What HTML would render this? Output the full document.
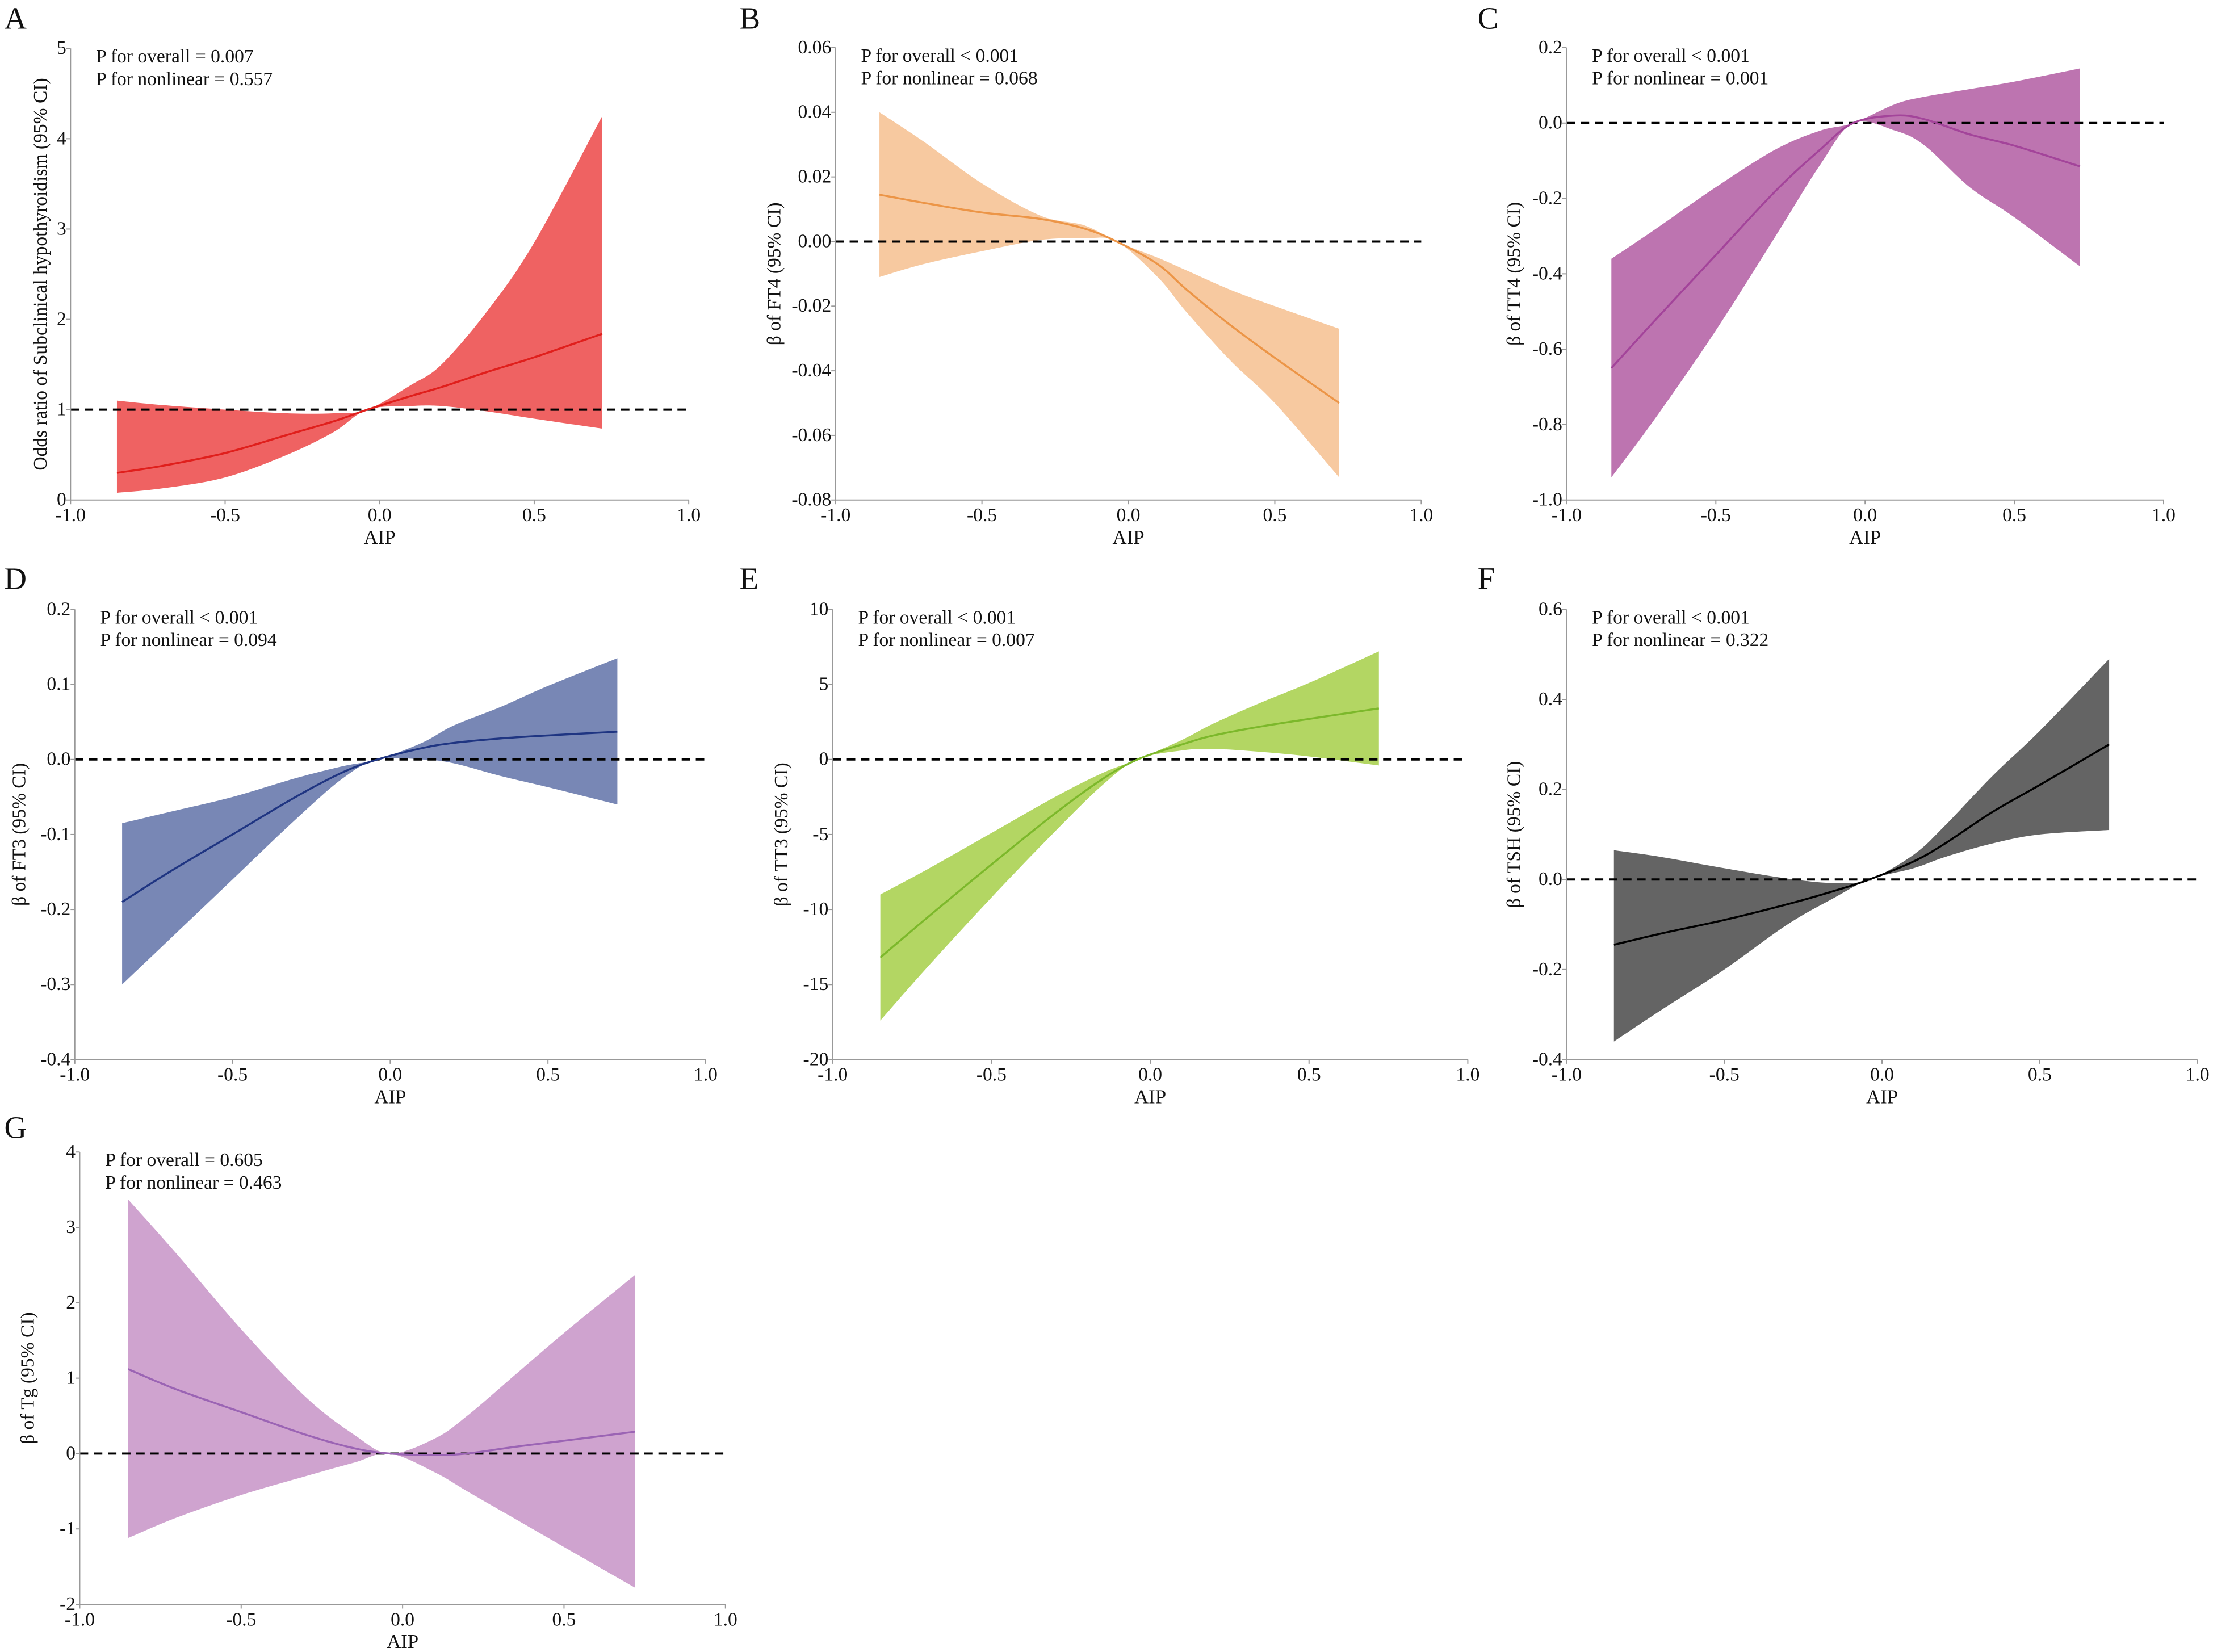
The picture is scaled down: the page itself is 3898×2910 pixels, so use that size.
<!DOCTYPE html>
<html><head><meta charset="utf-8"><style>
html,body{margin:0;padding:0;background:#fff;}
svg{display:block;}
svg text{font-family:"Liberation Serif","Times New Roman",serif;}
</style></head><body>
<svg id="fig" width="3898" height="2910" viewBox="0 0 1568 1170" font-family="Liberation Serif, serif" xmlns="http://www.w3.org/2000/svg"></svg>
<script>
const xs = [-0.85,-0.7,-0.5,-0.3,-0.15,-0.04,0.1,0.2,0.35,0.5,0.72];
const xTicks = [-1.0,-0.5,0.0,0.5,1.0];
const xTickLabels = ["-1.0","-0.5","0.0","0.5","1.0"];

const aEst = [0.3,0.38,0.52,0.72,0.87,1,1.15,1.25,1.42,1.58,1.84];
const aLo  = [0.08,0.13,0.25,0.5,0.75,1,1.04,1.04,0.98,0.9,0.79];
const aHi  = [1.1,1.05,1.0,0.96,0.96,1,1.27,1.5,2.1,2.85,4.25];
const aTicks = [0,1,2,3,4,5];
const aTickLabels = ["0","1","2","3","4","5"];

const bEst = [0.0145,0.012,0.009,0.007,0.004,0,-0.007,-0.015,-0.026,-0.036,-0.050];
const bLo  = [-0.011,-0.007,-0.003,0.0005,0.001,0,-0.011,-0.022,-0.037,-0.050,-0.073];
const bHi  = [0.040,0.031,0.018,0.008,0.005,0,-0.005,-0.009,-0.015,-0.020,-0.027];
const bTicks = [-0.08,-0.06,-0.04,-0.02,0,0.02,0.04,0.06];
const bTickLabels = ["-0.08","-0.06","-0.04","-0.02","0.00","0.02","0.04","0.06"];

const cEst = [-0.65,-0.52,-0.35,-0.18,-0.07,0,0.02,0.01,-0.03,-0.06,-0.115];
const cLo  = [-0.94,-0.78,-0.55,-0.30,-0.11,0,-0.02,-0.06,-0.17,-0.25,-0.38];
const cHi  = [-0.36,-0.28,-0.17,-0.07,-0.02,0,0.05,0.07,0.09,0.11,0.145];
const cTicks = [-1.0,-0.8,-0.6,-0.4,-0.2,0,0.2];
const cTickLabels = ["-1.0","-0.8","-0.6","-0.4","-0.2","0.0","0.2"];

const dEst = [-0.19,-0.15,-0.10,-0.05,-0.017,0,0.015,0.022,0.028,0.032,0.037];
const dLo  = [-0.30,-0.24,-0.16,-0.08,-0.025,0,0.0,-0.005,-0.022,-0.037,-0.06];
const dHi  = [-0.085,-0.07,-0.05,-0.025,-0.009,0,0.022,0.045,0.07,0.098,0.135];
const dTicks = [-0.4,-0.3,-0.2,-0.1,0,0.1,0.2];
const dTickLabels = ["-0.4","-0.3","-0.2","-0.1","0.0","0.1","0.2"];

const eEst = [-13.2,-10.5,-7,-3.6,-1.3,0,1.0,1.6,2.2,2.7,3.4];
const eLo  = [-17.4,-13.8,-9.2,-4.8,-1.7,0,0.6,0.7,0.5,0.2,-0.4];
const eHi  = [-9,-7.3,-4.9,-2.5,-0.9,0,1.3,2.4,3.8,5.1,7.2];
const eTicks = [-20,-15,-10,-5,0,5,10];
const eTickLabels = ["-20","-15","-10","-5","0","5","10"];

const fEst = [-0.145,-0.12,-0.09,-0.055,-0.025,0,0.04,0.08,0.15,0.21,0.30];
const fLo  = [-0.36,-0.29,-0.20,-0.10,-0.04,0,0.025,0.05,0.08,0.10,0.11];
const fHi  = [0.065,0.05,0.025,0.002,-0.008,0,0.055,0.12,0.23,0.33,0.49];
const fTicks = [-0.4,-0.2,0,0.2,0.4,0.6];
const fTickLabels = ["-0.4","-0.2","0.0","0.2","0.4","0.6"];

const gEst = [1.12,0.85,0.55,0.25,0.07,0,-0.02,0.0,0.09,0.17,0.29];
const gLo  = [-1.12,-0.85,-0.55,-0.3,-0.12,0,-0.25,-0.5,-0.87,-1.24,-1.78];
const gHi  = [3.37,2.65,1.65,0.75,0.25,0,0.2,0.5,1.05,1.6,2.37];
const gTicks = [-2,-1,0,1,2,3,4];
const gTickLabels = ["-2","-1","0","1","2","3","4"];

const NS = "http://www.w3.org/2000/svg";
const FONT = '"Liberation Serif", serif';
const fig = document.getElementById('fig');
function mk(tag, attrs, parent, text){
  const e = document.createElementNS(NS, tag);
  for (const k in attrs) e.setAttribute(k, attrs[k]);
  if (tag === 'text') e.setAttribute('font-family', FONT);
  if (text !== undefined) e.textContent = text;
  (parent||fig).appendChild(e);
  return e;
}
function smooth(pts){
  let d = "M" + pts[0][0] + "," + pts[0][1];
  for (let i=0;i<pts.length-1;i++){
    const p0 = pts[Math.max(0,i-1)], p1 = pts[i], p2 = pts[i+1], p3 = pts[Math.min(pts.length-1,i+2)];
    const c1 = [p1[0]+(p2[0]-p0[0])/6, p1[1]+(p2[1]-p0[1])/6];
    const c2 = [p2[0]-(p3[0]-p1[0])/6, p2[1]-(p3[1]-p1[1])/6];
    d += " C"+c1[0]+","+c1[1]+" "+c2[0]+","+c2[1]+" "+p2[0]+","+p2[1];
  }
  return d;
}
function panel(cfg){
  const g = mk('g', {});
  
  
  const ymin = cfg.ticks[0], ymax = cfg.ticks[cfg.ticks.length-1];
  const X = v => cfg.xL + (v + 1) / 2 * (cfg.xR - cfg.xL);
  const Y = v => cfg.yB - (v - ymin) / (ymax - ymin) * (cfg.yB - cfg.yT);
  const letter = mk('text', {x: cfg.lx, y: cfg.ly, 'font-size': 22, fill: '#111'}, g, cfg.id);
  
  
  const hiPts = xs.map((x,i)=>[X(x), Y(cfg.hi[i])]);
  const loPts = xs.map((x,i)=>[X(x), Y(cfg.lo[i])]).reverse();
  const band = mk('path', {d: smooth(hiPts) + smooth(loPts).replace(/^M/, ' L') + ' Z', fill: cfg.fill, stroke: 'none'}, g);
  
  
  const ref = mk('line', {x1: cfg.xL, x2: cfg.xR, y1: Y(cfg.refv), y2: Y(cfg.refv), stroke: '#000', 'stroke-width': 1.6, 'stroke-dasharray': '6,4'}, g);
  
  
  const est = mk('path', {d: smooth(xs.map((x,i)=>[X(x), Y(cfg.est[i])])), fill: 'none', stroke: cfg.line, 'stroke-width': 1.4}, g);
  
  
  const ya = mk('line', {x1: cfg.xL, x2: cfg.xL, y1: cfg.yT, y2: cfg.yB, stroke: '#999', 'stroke-width': 0.8}, g);
  
  
  const xa = mk('line', {x1: cfg.xL, x2: cfg.xR, y1: cfg.yB, y2: cfg.yB, stroke: '#999', 'stroke-width': 0.8}, g);
  
  
  cfg.ticks.forEach((t,i)=>{
    mk('line', {x1: cfg.xL-3, x2: cfg.xL, y1: Y(t), y2: Y(t), stroke: '#999', 'stroke-width': 0.8}, g);
    const tl = mk('text', {x: cfg.xL-3, y: Y(t)+4, 'font-size': 13.5, 'text-anchor': 'end', fill: '#111'}, g, cfg.labels[i]);
    
    
  });
  xTicks.forEach((t,i)=>{
    mk('line', {x1: X(t), x2: X(t), y1: cfg.yB, y2: cfg.yB+3, stroke: '#999', 'stroke-width': 0.8}, g);
    const tl = mk('text', {x: X(t), y: cfg.yB+15, 'font-size': 13.5, 'text-anchor': 'middle', fill: '#111'}, g, xTickLabels[i]);
    
    
  });
  const xt = mk('text', {x: X(0), y: cfg.yB+31, 'font-size': 14, 'text-anchor': 'middle', fill: '#111'}, g, 'AIP');
  
  
  const cy = (cfg.yT + cfg.yB)/2;
  const yt = mk('text', {x: 0, y: 0, 'font-size': 13.5, 'text-anchor': 'middle', fill: '#111', transform: 'translate(' + cfg.tx + ',' + cy + ') rotate(-90)'}, g, cfg.ytitle);
  
  
  const a1 = mk('text', {x: cfg.xL+18, y: cfg.yT+10, 'font-size': 13.5, fill: '#111'}, g, cfg.p1);
  
  
  const a2 = mk('text', {x: cfg.xL+18, y: cfg.yT+26, 'font-size': 13.5, fill: '#111'}, g, cfg.p2);
  
  
}
panel({id:'A', lx:3, ly:20, xL:50, xR:488, yT:34, yB:354, tx:33, ticks:aTicks, labels:aTickLabels, est:aEst, lo:aLo, hi:aHi, refv:1, fill:'#ef6262', line:'#e01f1c', ytitle:'Odds ratio of Subclinical hypothyroidism (95% CI)', p1:'P for overall = 0.007', p2:'P for nonlinear = 0.557'});
panel({id:'B', lx:524, ly:20, xL:592, xR:1007, yT:33.5, yB:354, tx:553, ticks:bTicks, labels:bTickLabels, est:bEst, lo:bLo, hi:bHi, refv:0, fill:'#f7c9a0', line:'#ec9547', ytitle:'β  of FT4 (95% CI)', p1:'P for overall < 0.001', p2:'P for nonlinear = 0.068'});
panel({id:'C', lx:1047, ly:20, xL:1110, xR:1533, yT:33.5, yB:354, tx:1077, ticks:cTicks, labels:cTickLabels, est:cEst, lo:cLo, hi:cHi, refv:0, fill:'#bd74b0', line:'#a3449a', ytitle:'β  of TT4 (95% CI)', p1:'P for overall < 0.001', p2:'P for nonlinear = 0.001'});
panel({id:'D', lx:3, ly:417, xL:53, xR:500, yT:431.5, yB:750.5, tx:18, ticks:dTicks, labels:dTickLabels, est:dEst, lo:dLo, hi:dHi, refv:0, fill:'#7887b5', line:'#1f3582', ytitle:'β  of FT3 (95% CI)', p1:'P for overall < 0.001', p2:'P for nonlinear = 0.094'});
panel({id:'E', lx:524, ly:417, xL:590, xR:1040, yT:431.5, yB:750.5, tx:558, ticks:eTicks, labels:eTickLabels, est:eEst, lo:eLo, hi:eHi, refv:0, fill:'#b3d663', line:'#7cb82b', ytitle:'β  of TT3 (95% CI)', p1:'P for overall < 0.001', p2:'P for nonlinear = 0.007'});
panel({id:'F', lx:1047, ly:417, xL:1110, xR:1557, yT:431.5, yB:750.5, tx:1077, ticks:fTicks, labels:fTickLabels, est:fEst, lo:fLo, hi:fHi, refv:0, fill:'#646464', line:'#000', ytitle:'β  of TSH (95% CI)', p1:'P for overall < 0.001', p2:'P for nonlinear = 0.322'});
panel({id:'G', lx:3, ly:806, xL:56.5, xR:514, yT:816, yB:1136.5, tx:24, ticks:gTicks, labels:gTickLabels, est:gEst, lo:gLo, hi:gHi, refv:0, fill:'#cfa3cf', line:'#9b64b4', ytitle:'β  of Tg (95% CI)', p1:'P for overall = 0.605', p2:'P for nonlinear = 0.463'});
</script>
</body></html>
